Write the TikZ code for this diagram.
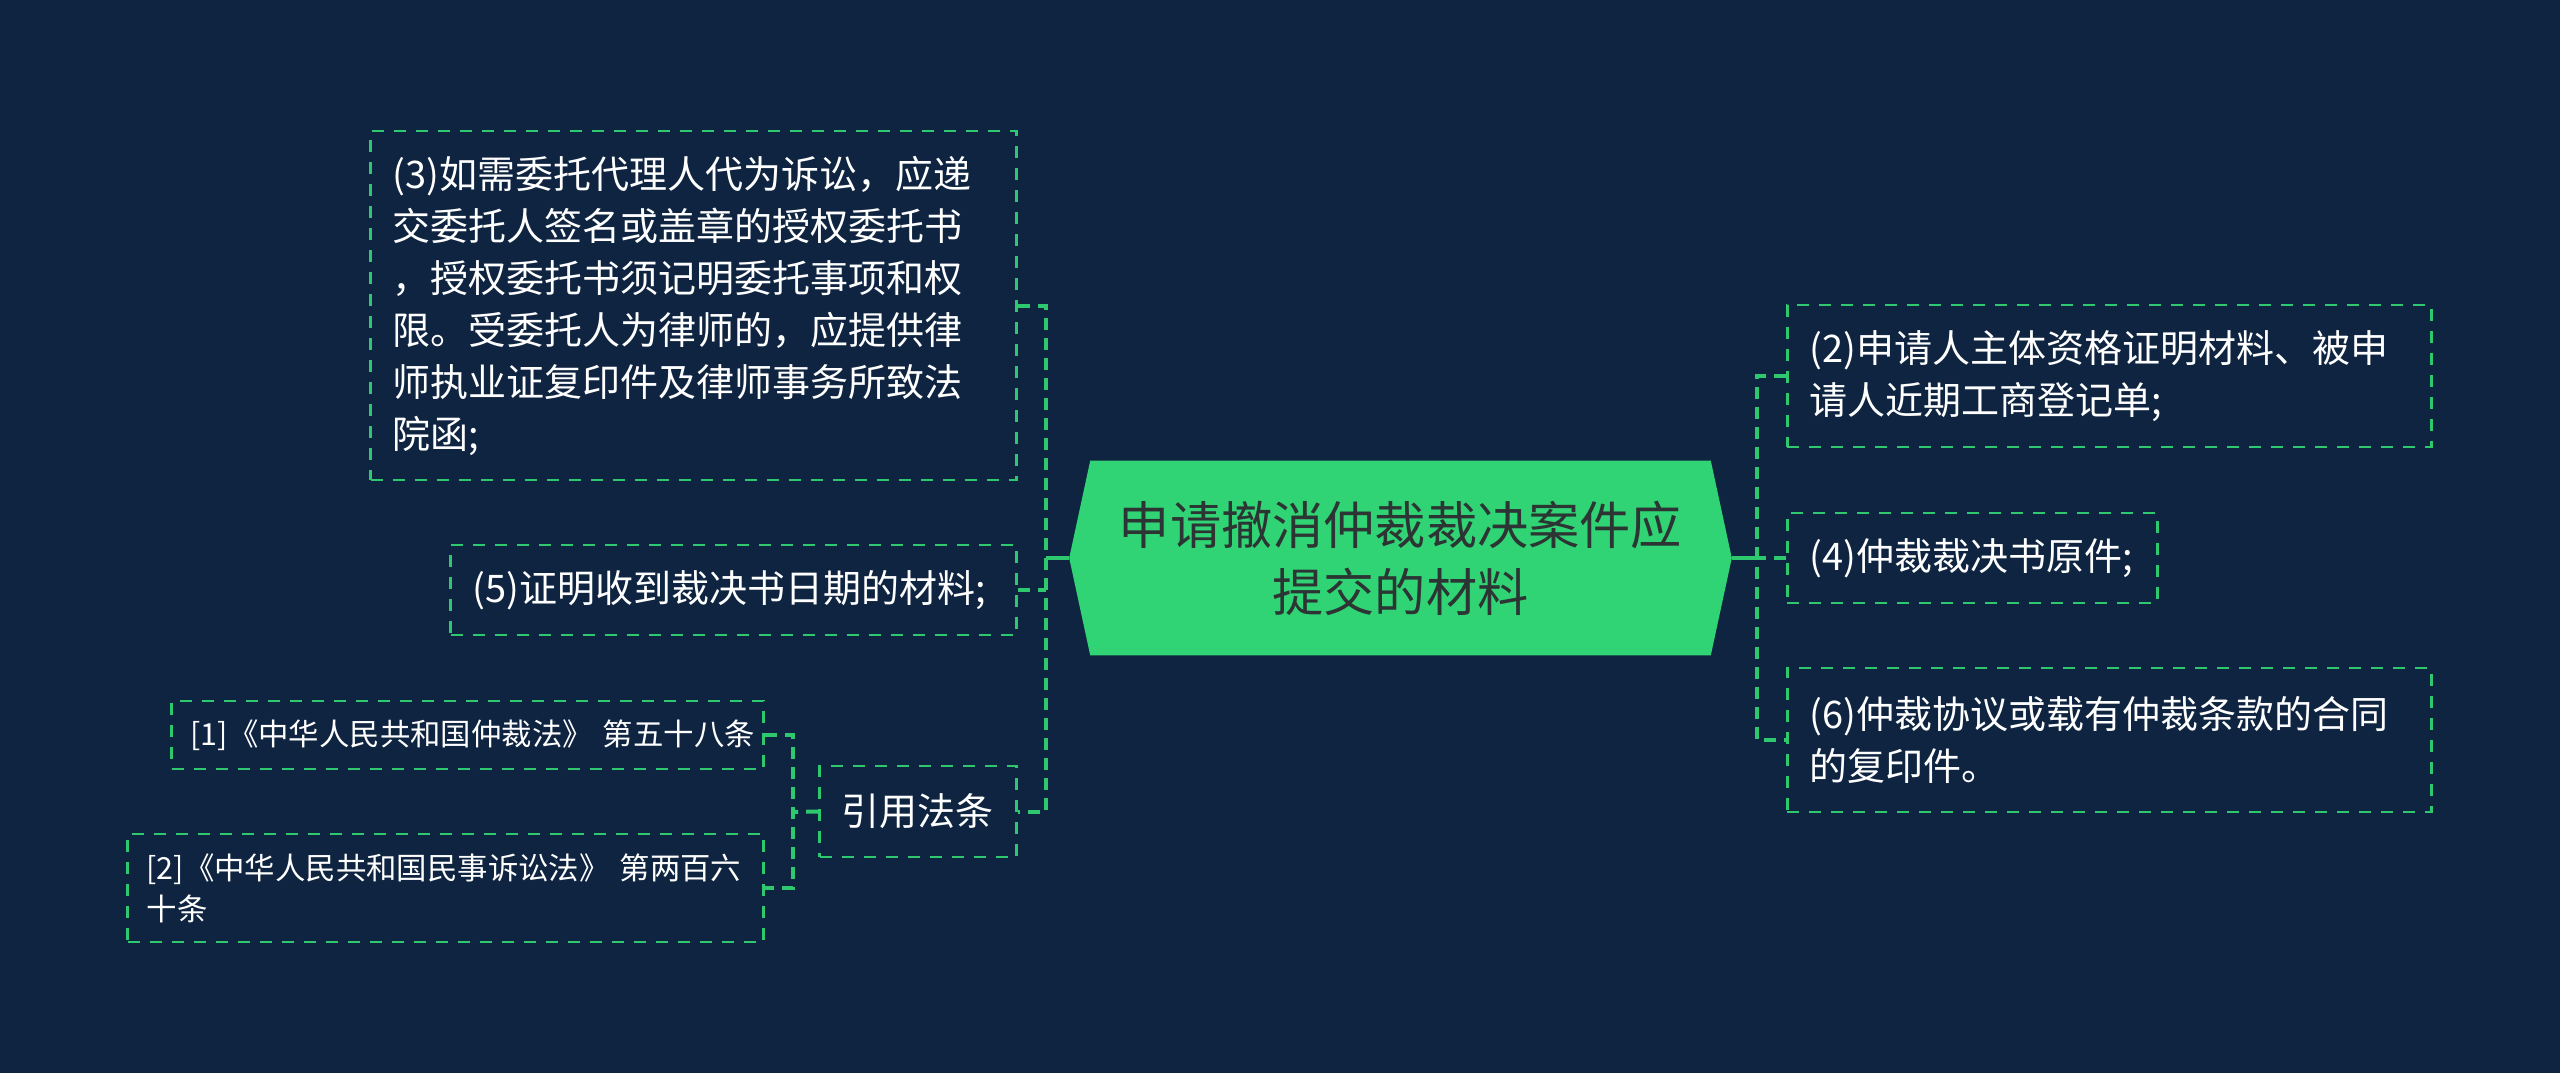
\documentclass[tikz,border=0pt]{standalone}
\usepackage{fontspec}
\setmainfont{Noto Sans CJK SC}
\usetikzlibrary{positioning,backgrounds}
\definecolor{bgnavy}{RGB}{14,36,64}
\definecolor{rootgreen}{RGB}{48,212,116}
\definecolor{linegreen}{RGB}{46,200,110}
\definecolor{roottext}{RGB}{44,52,52}

\begin{document}
\begin{tikzpicture}[x=0.25pt,y=-0.25pt,
  every node/.style={inner sep=0pt},
  rootbox/.style={minimum width=165.25pt,minimum height=48.25pt,align=center,
    text=roottext,font=\fontsize{12.8pt}{16.75pt}\selectfont},
  leaf/.style={draw=linegreen,line width=0.7pt,dash pattern=on 3pt off 2.5pt,
    text=white,align=left,inner xsep=5.5pt,font=\fontsize{9.5pt}{13pt}\selectfont},
  lawleaf/.style={leaf,inner xsep=4.75pt,font=\fontsize{7.6pt}{10.25pt}\selectfont},
  dashlink/.style={draw=linegreen,line width=1pt,dash pattern=on 3pt off 2pt},
  solidlink/.style={draw=linegreen,line width=1pt}]
\useasboundingbox (0,0) rectangle (2560,1073);

% centre
\node[rootbox] (root) at (1400.5,558) {申请撤消仲裁裁决案件应\\提交的材料};
\begin{pgfonlayer}{background}
\fill[bgnavy] (0,0) rectangle (2560,1073);
\fill[rootgreen] ([xshift=5.25pt]root.north west) -- ([xshift=-5.25pt]root.north east)
  -- (root.east) -- ([xshift=-5.25pt]root.south east)
  -- ([xshift=5.25pt]root.south west) -- (root.west) -- cycle;
\end{pgfonlayer}

% left side
\node[leaf,anchor=east,text width=150.5pt,minimum height=87.25pt] (n3) at (1018,305.5)
  {(3)如需委托代理人代为诉讼，应递\\交委托人签名或盖章的授权委托书\\，授权委托书须记明委托事项和权\\限。受委托人为律师的，应提供律\\师执业证复印件及律师事务所致法\\院函;};
\node[leaf,anchor=east,text width=130.5pt,minimum height=22.5pt] (n5) at (1018,590)
  {(5)证明收到裁决书日期的材料;};
\node[leaf,anchor=east,text width=38.25pt,minimum height=22.75pt] (law) at (1018,811.5)
  {引用法条};
\node[lawleaf,anchor=east,text width=138.5pt,minimum height=17pt] (l1) at (765,735)
  {\mbox{[1]《中华人民共和国仲裁法》~第五十八条}};
\node[lawleaf,anchor=east,text width=149.5pt,minimum height=27pt] (l2) at (765,888)
  {\mbox{[2]《中华人民共和国民事诉讼法》~第两百六}\\十条};

% right side
\node[leaf,anchor=west,text width=150pt,minimum height=35.5pt] (n2) at (1786,376)
  {(2)申请人主体资格证明材料、被申\\请人近期工商登记单;};
\node[leaf,anchor=west,text width=81.5pt,minimum height=22.5pt] (n4) at (1786,558)
  {(4)仲裁裁决书原件;};
\node[leaf,anchor=west,text width=150pt,minimum height=36pt] (n6) at (1786,740)
  {(6)仲裁协议或载有仲裁条款的合同\\的复印件。};

% links
\coordinate (lt) at (1046,558);
\coordinate (rt) at (1757,558);
\coordinate (st) at (793,812);
\draw[solidlink] (root.west) -- (lt);
\draw[solidlink] (root.east) -- (rt);
\draw[dashlink] (n3.east) -- (n3.east -| lt) -- (law.east -| lt) -- (law.east);
\draw[dashlink] (n5.east) -- (n5.east -| lt);
\draw[dashlink] (n2.west) -- (n2.west -| rt) -- (n6.west -| rt) -- (n6.west);
\draw[dashlink] (n4.west) -- (n4.west -| rt);
\draw[dashlink] (law.west) -- (st);
\draw[dashlink] (l1.east) -- (l1.east -| st) -- (l2.east -| st) -- (l2.east);
\end{tikzpicture}
\end{document}
